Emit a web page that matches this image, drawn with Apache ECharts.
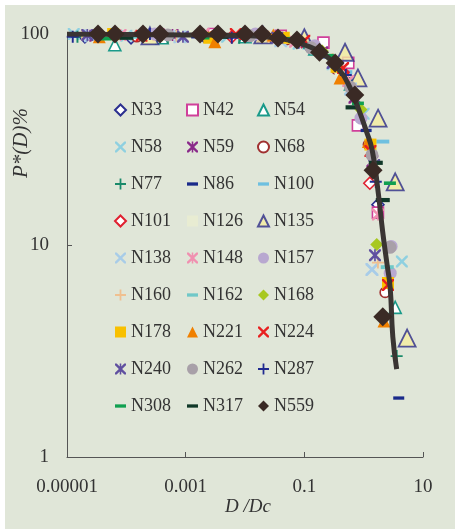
<!DOCTYPE html>
<html>
<head>
<meta charset="utf-8">
<script src="https://cdn.jsdelivr.net/npm/echarts@6/dist/echarts.min.js"></script>
<style>
  body { margin: 0; background: #fff; }
  #chart { width: 455px; height: 529px; }
</style>
</head>
<body>
<div id="chart"></div>
<script>
// axis ticks
const xTicks = [0.00001, 0.001, 0.1, 10]
const xTickLabels = ["0.00001", "0.001", "0.1", "10"]
const yTicks = [1, 10, 100]
const yTickLabels = ["1", "10", "100"]

// [D/Dc, P*(D)%] per sample
const n33 = [[2e-5, 97], [1.2e-4, 96], [0.002, 98], [0.02, 99], [0.12, 87], [0.4, 70], [1.74, 15.6]]
const n42 = [[0.00035, 99], [0.003, 100], [0.04, 98], [0.21, 91], [0.55, 73], [0.8, 37], [1.74, 14.3]]
const n54 = [[6.4e-5, 89], [0.0004, 96], [0.01, 97], [0.15, 85], [0.6, 58], [3.4, 5.1]]
const n58 = [[1.3e-5, 100], [0.0001, 98], [0.005, 97], [0.08, 90], [0.3, 72], [1.0, 42], [4.4, 8.4]]
const n59 = [[3e-5, 98], [0.0006, 99], [0.02, 97], [0.2, 82], [0.7, 50], [1.4, 25]]
const n68 = [[0.00015, 97], [0.003, 98], [0.05, 94], [0.35, 68], [1.2, 30], [2.3, 6]]
const n77 = [[1.5e-5, 97], [0.0005, 96], [0.008, 96], [0.12, 86], [0.5, 62], [3.6, 3.0]]
const n86 = [[4e-5, 96], [0.0015, 97], [0.03, 98], [0.25, 78], [1.1, 35], [3.9, 1.9]]
const n100 = [[0.0001, 97], [0.004, 99], [0.06, 95], [0.5, 66], [2.1, 31]]
const n101 = [[0.0002, 99], [0.006, 97], [0.09, 92], [0.45, 66], [1.27, 19.7]]
const n126 = [[5e-5, 99], [0.001, 98], [0.05, 96], [0.4, 67], [1.5, 24]]
const n135 = [[0.00025, 98], [0.02, 99], [0.1, 96], [0.485, 82], [0.8, 62], [1.75, 40], [3.4, 20], [5.4, 3.65]]
const n138 = [[2.5e-5, 98], [0.0008, 97], [0.04, 93], [0.6, 55], [1.38, 7.7]]
const n148 = [[8e-5, 99], [0.002, 100], [0.07, 92], [0.55, 60], [1.74, 14]]
const n157 = [[0.0003, 100], [0.015, 100], [0.15, 88], [0.9, 40], [2.9, 9.9], [2.8, 7.4]]
const n160 = [[1.8e-5, 99], [0.0007, 98], [0.025, 97], [0.3, 76], [1.74, 8.3]]
const n162 = [[0.00012, 97], [0.005, 98], [0.1, 90], [0.7, 52], [2.5, 7.9]]
const n168 = [[0.0004, 99], [0.02, 98], [0.2, 83], [0.9, 44], [1.66, 10.1]]
const n178 = [[6e-5, 100], [0.0025, 96], [0.045, 96], [0.35, 70], [1.3, 30], [2.57, 6.65]]
const n221 = [[3.5e-5, 97], [0.0031, 92], [0.03, 99], [0.4, 62], [1.2, 31], [2.2, 4.4]]
const n224 = [[0.00018, 98], [0.007, 100], [0.1, 93], [0.45, 69], [1.3, 28], [2.57, 6.5]]
const n240 = [[2.2e-5, 99], [0.0009, 97], [0.035, 96], [0.3, 73], [1.5, 24], [1.55, 9]]
const n262 = [[0.0005, 99], [0.012, 98], [0.13, 86], [0.6, 56], [1.38, 26.8], [2.77, 9.8]]
const n287 = [[1.25e-5, 97], [0.00025, 100], [0.006, 96], [0.08, 91], [0.5, 64], [1.6, 20]]
const n308 = [[4.5e-5, 95], [0.002, 96], [0.05, 95], [0.25, 79], [0.8, 47], [2.77, 19.7]]
const n317 = [[1e-4, 96], [0.004, 97], [0.07, 93], [0.65, 45], [1.6, 24.6], [2.1, 16.4]]
const n559 = [[3.33e-5, 100], [6.44e-5, 100], [1.91e-4, 100], [3.7e-4, 100], [1.75e-3, 100], [3.5e-3, 100], [0.01, 100], [0.0194, 100], [0.036, 95.7], [0.075, 93.7], [0.18, 82], [0.33, 73], [0.71, 51.5], [1.44, 22.7], [2.1, 4.6]]
// fitted curve
const fitCurve = [[1e-5, 100], [1e-4, 99.5], [0.001, 99], [0.01, 98.5], [0.03, 96], [0.06, 93], [0.1, 89], [0.2, 81], [0.35, 70], [0.55, 58], [0.8, 45], [1.1, 35], [1.4, 28], [1.75, 18], [2.1, 11.5], [2.5, 8], [2.8, 6.3], [3.1, 3.7], [3.6, 2.6]]

const serif = '"Liberation Serif", "Times New Roman", serif'
const bg = "#e0e6d8"
const X = "path://M0,0L1.5,0L5,3.5L8.5,0L10,0L10,1.5L6.5,5L10,8.5L10,10L8.5,10L5,6.5L1.5,10L0,10L0,8.5L3.5,5L0,1.5Z"
const PLUS = "path://M4.2,0H5.8V4.2H10V5.8H5.8V10H4.2V5.8H0V4.2H4.2Z"
const STAR = X + "M4.3,0H5.7V10H4.3Z"
const DASH = "path://M0,0H10V3H0Z"

const mk = (name, data, symbol, color, size, hollow, extra) => {
  const s = {
    name,
    type: "scatter",
    data,
    symbol,
    symbolSize: size,
    symbolKeepAspect: true,
    itemStyle: hollow
      ? { color: "#fff", borderColor: color, borderWidth: 1.6, opacity: 1 }
      : { color, opacity: 1 },
    z: 2
  }
  return Object.assign(s, extra || {})
}

const series = [
  mk("N33", n33, "diamond", "#2b2f8f", 12, true),
  mk("N42", n42, "rect", "#d0409a", 11, true),
  mk("N54", n54, "triangle", "#1a9a8a", 12, true),
  mk("N58", n58, X, "#8fd0e0", 12),
  mk("N59", n59, STAR, "#8a2a8a", 12),
  mk("N68", n68, "circle", "#a03030", 10, true),
  mk("N77", n77, PLUS, "#1a8a6a", 12),
  mk("N86", n86, DASH, "#1a2a8a", 11),
  mk("N100", n100, DASH, "#6ec0e0", 13),
  mk("N101", n101, "diamond", "#e02030", 12, true),
  mk("N126", n126, "rect", "#e8ecd2", 11),
  mk("N135", n135, "triangle", "#2a2a8a", 17, false, {
    itemStyle: { color: "#f5eea0", borderColor: "#2a2a8a", borderWidth: 1.8 }
  }),
  mk("N138", n138, X, "#a8cce8", 13),
  mk("N148", n148, STAR, "#f090b0", 12),
  mk("N157", n157, "circle", "#b8a8d0", 13),
  mk("N160", n160, PLUS, "#f0c090", 12),
  mk("N162", n162, DASH, "#70c8c8", 13),
  mk("N168", n168, "diamond", "#a8c820", 13),
  mk("N178", n178, "rect", "#f8c000", 12),
  mk("N221", n221, "triangle", "#f08000", 13),
  mk("N224", n224, X, "#e82020", 12),
  mk("N240", n240, STAR, "#6050a0", 12),
  mk("N262", n262, "circle", "#a8a0a8", 13),
  mk("N287", n287, PLUS, "#202a90", 12),
  mk("N308", n308, DASH, "#10a050", 12),
  mk("N317", n317, DASH, "#103828", 14),
  mk("N559", n559, "diamond", "#3a2a25", 19, false, { z: 4 }),
  {
    name: "fit",
    type: "line",
    data: fitCurve,
    smooth: true,
    showSymbol: false,
    lineStyle: { color: "#3a3533", width: 5 },
    z: 3,
    silent: true
  }
]

const names = series.filter(s => s.name !== "fit").map(s => s.name)
const cols = [0, 1, 2].map(c => names.filter((n, i) => i % 3 === c))
const legendLeft = [109, 181, 252]
const legends = cols.map((d, i) => ({
  data: d,
  orient: "vertical",
  left: legendLeft[i],
  top: 96,
  itemWidth: 11,
  itemHeight: 11,
  itemGap: 19,
  selectedMode: false,
  textStyle: { color: "#333", fontSize: 18, fontFamily: serif, lineHeight: 18 }
}))

const tickText = (ticks, labels) => v => {
  const i = ticks.findIndex(t => Math.abs(Math.log10(t) - Math.log10(v)) < 1e-6)
  return i >= 0 ? labels[i] : ""
}

const chart = echarts.init(document.getElementById("chart"), null, { renderer: "canvas" })
const options = {
  animation: false,
  textStyle: { fontFamily: serif },
  graphic: [
    { type: "rect", z: -10, shape: { x: 5, y: 5, width: 450, height: 524 }, style: { fill: bg }, silent: true },
    {
      type: "text", x: 21, y: 143, rotation: Math.PI / 2,
      style: { text: "P*(D)%", font: 'italic 21px "Liberation Serif"', fill: "#333", align: "center", verticalAlign: "middle" }
    },
    {
      type: "text", x: 248, y: 507,
      style: { text: "D /Dc", font: 'italic 19px "Liberation Serif"', fill: "#333", align: "center", verticalAlign: "middle" }
    }
  ],
  legend: legends,
  grid: { left: 67, right: 32, top: 34, bottom: 72, outerBoundsMode: "none" },
  xAxis: {
    type: "log",
    logBase: 10,
    min: 0.00001,
    max: 10,
    axisLine: { show: true, lineStyle: { color: "#555", width: 1 } },
    axisTick: { show: true, inside: true, length: 5, customValues: xTicks, lineStyle: { color: "#555" } },
    axisLabel: {
      customValues: xTicks,
      formatter: tickText(xTicks, xTickLabels),
      margin: 21,
      fontSize: 19,
      color: "#333",
      fontFamily: serif
    },
    splitLine: { show: false }
  },
  yAxis: {
    type: "log",
    logBase: 10,
    min: 1,
    max: 100,
    axisLine: { show: true, lineStyle: { color: "#555", width: 1 } },
    axisTick: { show: true, inside: true, length: 5, customValues: yTicks, lineStyle: { color: "#555" } },
    axisLabel: {
      customValues: yTicks,
      formatter: tickText(yTicks, yTickLabels),
      margin: 18,
      fontSize: 19,
      color: "#333",
      fontFamily: serif
    },
    splitLine: { show: false }
  },
  series
}
chart.setOption(options)
</script>
</body>
</html>
